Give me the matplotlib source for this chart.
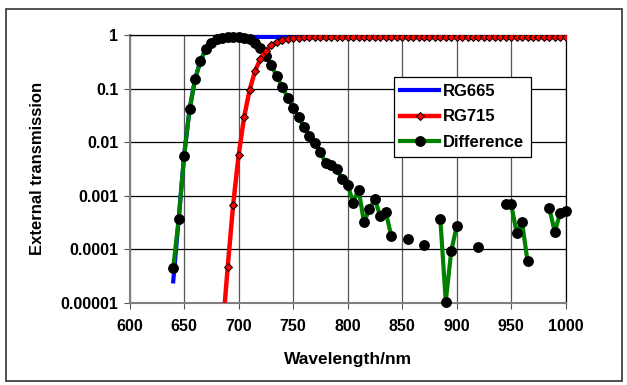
import matplotlib
matplotlib.use("Agg")
import matplotlib.pyplot as plt
import matplotlib.ticker as ticker
from matplotlib.patches import Rectangle
import numpy as np

plt.rcParams['font.family'] = ['Liberation Sans', 'DejaVu Sans']
plt.rcParams['font.weight'] = 'bold'

nan = np.nan

# RG665 filter, 640-1000 nm in 5 nm steps
wl_665 = list(range(640, 1001, 5))
rg665 = [2.5e-5, 3.6e-4, 5.6e-3, 0.041, 0.148, 0.33, 0.54, 0.72, 0.83, 0.88,
         0.90, 0.91, 0.915, 0.92, 0.92, 0.92, 0.92, 0.92, 0.92, 0.92,
         0.92, 0.92, 0.92, 0.92, 0.92, 0.92, 0.92, 0.92, 0.92, 0.92,
         0.92, 0.92, 0.92, 0.92, 0.92, 0.92, 0.92, 0.92, 0.92, 0.92,
         0.92, 0.92, 0.92, 0.92, 0.92, 0.92, 0.92, 0.92, 0.92, 0.92,
         0.92, 0.92, 0.92, 0.92, 0.92, 0.92, 0.92, 0.92, 0.92, 0.92,
         0.92, 0.92, 0.92, 0.92, 0.92, 0.92, 0.92, 0.92, 0.92, 0.92,
         0.92, 0.92, 0.92]

# RG715 filter, 685-1000 nm
wl_715 = list(range(685, 1001, 5))
rg715 = [2.5e-6, 4.7e-5, 6.8e-4, 5.7e-3, 0.029, 0.093, 0.21, 0.36, 0.51, 0.64,
         0.74, 0.81, 0.85, 0.876, 0.89, 0.90, 0.907, 0.91, 0.913, 0.915,
         0.917, 0.918, 0.92, 0.92, 0.92, 0.92, 0.92, 0.92, 0.92, 0.92,
         0.92, 0.92, 0.92, 0.92, 0.92, 0.92, 0.92, 0.92, 0.92, 0.92,
         0.92, 0.92, 0.92, 0.92, 0.92, 0.92, 0.92, 0.92, 0.92, 0.92,
         0.92, 0.92, 0.92, 0.92, 0.92, 0.92, 0.92, 0.92, 0.92, 0.92,
         0.92, 0.92, 0.92, 0.92]

# difference (gaps where it is not positive)
wl_diff = list(range(640, 1001, 5))
diff = [4.5e-5, 3.6e-4, 5.6e-3, 0.041, 0.148, 0.33, 0.54, 0.72, 0.83, 0.88,
        0.90, 0.91, 0.909, 0.89, 0.83, 0.71, 0.56, 0.41, 0.27, 0.17,
        0.108, 0.068, 0.044, 0.0295, 0.019, 0.0132, 0.0096, 0.0065, 0.0040, 0.0038,
        0.0031, 0.0020, 0.0016, 0.00074, 0.0013, 0.00032, 0.00056, 0.00085, 0.00041, 0.0005,
        0.000174, nan, nan, 0.000156, nan, nan, 0.000117, nan, nan, 0.00037,
        1.05e-5, 9.1e-5, 0.00027, nan, nan, nan, 0.00011, nan, nan, nan,
        nan, 0.00071, 0.00069, 0.000203, 0.00032, 5.9e-5, nan, nan, nan, 0.00058,
        0.00021, 0.00048, 0.00051]

ytick_vals = [1, 0.1, 0.01, 0.001, 0.0001, 0.00001]
ytick_labels = ['1', '0.1', '0.01', '0.001', '0.0001', '0.00001']

fig = plt.figure(figsize=(6.27, 3.85), dpi=100)
ax = fig.add_axes([0.2067, 0.2138, 0.6955, 0.6953])

ax.plot(wl_665, rg665, color='#0000ff', lw=3, label='RG665', zorder=3)
ax.plot(wl_diff, diff, color='#008000', lw=3, marker='o', ms=6.8,
        mfc='black', mec='black', label='Difference', zorder=4, clip_on=False)
ax.plot(wl_715, rg715, color='#ff0000', lw=3.2, marker='D', ms=4,
        mfc='#ff0000', mec='black', mew=0.7, label='RG715', zorder=5)

ax.set_yscale('log')
ax.set_xlim(600, 1000)
ax.set_ylim(1e-5, 1)
ax.set_xticks(range(600, 1001, 50))
ax.set_yticks(ytick_vals)
ax.yaxis.set_major_formatter(ticker.FixedFormatter(ytick_labels))
ax.yaxis.set_minor_locator(ticker.NullLocator())

ax.grid(axis='y', color='black', lw=0.9)
ax.grid(axis='x', color='#555555', lw=0.9)
ax.set_axisbelow(True)
for s in ['left', 'bottom']:
    ax.spines[s].set_color('#808080')
    ax.spines[s].set_linewidth(1.5)
for s in ['top', 'right']:
    ax.spines[s].set_color('black')
    ax.spines[s].set_linewidth(0.9)
ax.tick_params(axis='both', direction='out', length=4, color='#555555',
               labelsize=11.5, pad=4)
ax.tick_params(axis='x', pad=8)

ax.set_xlabel('Wavelength/nm', fontsize=12.5, fontweight='bold', labelpad=13)
ax.set_ylabel('External transmission', fontsize=12, fontweight='bold', labelpad=11)

h, l = ax.get_legend_handles_labels()
order = [0, 2, 1]
leg = ax.legend([h[i] for i in order], [l[i] for i in order],
                loc='upper left', bbox_to_anchor=(0.628, 0.8),
                bbox_transform=fig.transFigure, fancybox=False, framealpha=1,
                edgecolor='black', fontsize=12, handlelength=2.3,
                labelspacing=0.65, borderpad=0.4, handletextpad=0.25,
                borderaxespad=0)
leg.get_frame().set_linewidth(0.9)
for t in leg.get_texts():
    t.set_fontweight('bold')

fig.patches.append(Rectangle((6 / 627, 1 - 381 / 385), 616 / 627, 372 / 385,
                             transform=fig.transFigure, fill=False,
                             edgecolor='#333333', lw=1.2))

fig.savefig('out.png', dpi=100)
